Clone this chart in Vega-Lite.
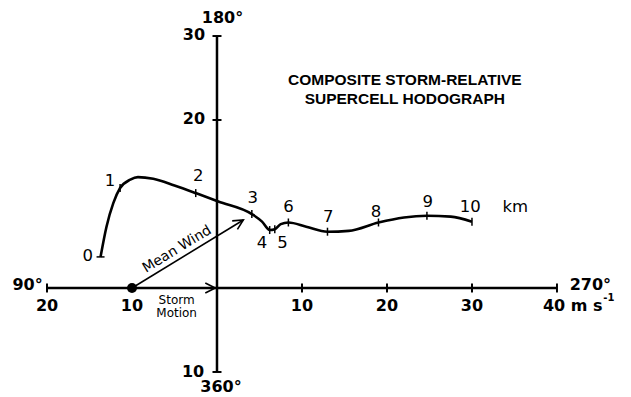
{
  "$schema": "https://vega.github.io/schema/vega-lite/v6.json",
  "width": 631,
  "height": 397,
  "padding": 0,
  "autosize": {"type": "fit", "contains": "padding"},
  "background": "white",
  "config": {"view": {"stroke": null}},
  "datasets": {
    "axes": [
      {"u": -20, "v": 0, "u2": 40, "v2": 0},
      {"u": 0, "v": -10, "u2": 0, "v2": 30}
    ],
    "arrows": [
      {"name": "storm", "u": -10, "v": 0, "u2": -0.2, "v2": 0},
      {"name": "mean", "u": -10, "v": 0, "u2": 3.1, "v2": 8.1}
    ],
    "xticks": [{"u": -20, "v": 0}, {"u": 10, "v": 0}, {"u": 20, "v": 0}, {"u": 30, "v": 0}, {"u": 40, "v": 0}],
    "yticks": [{"u": 0, "v": 30}, {"u": 0, "v": 20}, {"u": 0, "v": -10}],
    "curve": [
      {"u": -13.7, "v": 3.7},
      {"u": -13.0, "v": 7.3},
      {"u": -12.2, "v": 10.1},
      {"u": -11.4, "v": 11.9},
      {"u": -10.2, "v": 12.9},
      {"u": -9.3, "v": 13.2},
      {"u": -7.5, "v": 13.0},
      {"u": -5.0, "v": 12.2},
      {"u": -2.5, "v": 11.3},
      {"u": 0.15, "v": 10.3},
      {"u": 4.1, "v": 8.8},
      {"u": 5.3, "v": 7.9},
      {"u": 6.2, "v": 6.9},
      {"u": 6.8, "v": 7.0},
      {"u": 7.5, "v": 7.6},
      {"u": 8.4, "v": 7.8},
      {"u": 10.5, "v": 7.3},
      {"u": 13.0, "v": 6.7},
      {"u": 15.5, "v": 6.8},
      {"u": 19.0, "v": 7.8},
      {"u": 22.0, "v": 8.4},
      {"u": 24.7, "v": 8.6},
      {"u": 27.5, "v": 8.5},
      {"u": 30.0, "v": 7.9}
    ],
    "heights": [
      {"km": 0, "u": -13.7, "v": 3.7},
      {"km": 1, "u": -11.4, "v": 11.9},
      {"km": 2, "u": -2.5, "v": 11.3},
      {"km": 3, "u": 4.1, "v": 8.8},
      {"km": 4, "u": 6.2, "v": 6.9},
      {"km": 5, "u": 6.8, "v": 7.0},
      {"km": 6, "u": 8.4, "v": 7.8},
      {"km": 7, "u": 13.0, "v": 6.7},
      {"km": 8, "u": 19.0, "v": 7.8},
      {"km": 9, "u": 24.7, "v": 8.6},
      {"km": 10, "u": 30.0, "v": 7.9}
    ],
    "heightlabels": [
      {"t": "0", "u": -15.2, "v": 3.8},
      {"t": "1", "u": -12.6, "v": 12.7},
      {"t": "2", "u": -2.2, "v": 13.3},
      {"t": "3", "u": 4.2, "v": 10.75},
      {"t": "4", "u": 5.3, "v": 5.3},
      {"t": "5", "u": 7.7, "v": 5.3},
      {"t": "6", "u": 8.4, "v": 9.6},
      {"t": "7", "u": 13.1, "v": 8.4},
      {"t": "8", "u": 18.7, "v": 9.1},
      {"t": "9", "u": 24.8, "v": 10.2},
      {"t": "10", "u": 29.8, "v": 9.7},
      {"t": "km", "u": 35.1, "v": 9.7}
    ],
    "xlabels": [
      {"t": "20", "u": -20, "v": -2.14},
      {"t": "10", "u": -10, "v": -2.14},
      {"t": "10", "u": 10, "v": -2.14},
      {"t": "20", "u": 20, "v": -2.14},
      {"t": "30", "u": 30, "v": -2.14}
    ],
    "ylabels": [
      {"t": "30", "u": -1.4, "v": 30.1},
      {"t": "20", "u": -1.4, "v": 20.1},
      {"t": "10", "u": -1.5, "v": -10.0}
    ],
    "leftlabels": [
      {"t": "90°", "u": -20.5, "v": 0.3}
    ],
    "leftstart": [
      {"t": "270°", "u": 41.5, "v": 0.4},
      {"t": "40 m s", "u": 38.35, "v": -2.14}
    ],
    "centerlabels": [
      {"t": "180°", "u": 0.65, "v": 32.1},
      {"t": "360°", "u": 0.47, "v": -11.8}
    ],
    "sup": [{"t": "-1", "u": 45.45, "v": -1.25}],
    "title": [
      {"t": "COMPOSITE STORM-RELATIVE", "u": 22.1, "v": 24.8},
      {"t": "SUPERCELL HODOGRAPH", "u": 22.1, "v": 22.5}
    ],
    "storm": [{"u": -10, "v": 0}],
    "stormtext": [{"t": "Storm", "u": -4.75, "v": -1.4}, {"t": "Motion", "u": -4.75, "v": -2.95}],
    "meantext": [{"t": "Mean Wind", "u": -4.7, "v": 4.6}]
  },
  "encoding": {
    "x": {"field": "u", "type": "quantitative", "scale": {"domain": [-25.53, 48.71], "nice": false, "zero": false}, "axis": null},
    "y": {"field": "v", "type": "quantitative", "scale": {"domain": [-12.98, 34.29], "nice": false, "zero": false}, "axis": null}
  },
  "layer": [
    {
      "data": {"name": "axes"},
      "mark": {"type": "rule", "color": "black", "strokeWidth": 2.5},
      "encoding": {"x2": {"field": "u2"}, "y2": {"field": "v2"}}
    },
    {
      "data": {"name": "arrows"},
      "mark": {"type": "rule", "color": "black", "strokeWidth": 1.6},
      "encoding": {"x2": {"field": "u2"}, "y2": {"field": "v2"}}
    },
    {
      "data": {"name": "arrows"},
      "transform": [{"filter": "datum.name === 'storm'"}],
      "mark": {"type": "point", "shape": "M -1 -0.5 L 0 0 L -1 0.5", "size": 400, "filled": false, "stroke": "black", "strokeWidth": 1.6, "opacity": 1},
      "encoding": {"x": {"field": "u2", "type": "quantitative"}, "y": {"field": "v2", "type": "quantitative"}}
    },
    {
      "data": {"name": "arrows"},
      "transform": [{"filter": "datum.name === 'mean'"}],
      "mark": {"type": "point", "shape": "M -1 -0.5 L 0 0 L -1 0.5", "size": 400, "angle": 328.6, "filled": false, "stroke": "black", "strokeWidth": 1.6, "opacity": 1},
      "encoding": {"x": {"field": "u2", "type": "quantitative"}, "y": {"field": "v2", "type": "quantitative"}}
    },
    {
      "data": {"name": "xticks"},
      "mark": {"type": "tick", "orient": "vertical", "size": 9, "thickness": 2, "color": "black", "opacity": 1}
    },
    {
      "data": {"name": "yticks"},
      "mark": {"type": "tick", "orient": "horizontal", "size": 9, "thickness": 2, "color": "black", "opacity": 1}
    },
    {
      "data": {"name": "curve"},
      "mark": {"type": "line", "interpolate": "monotone", "color": "black", "strokeWidth": 2.6}
    },
    {
      "data": {"name": "heights"},
      "transform": [{"filter": "datum.km > 0"}],
      "mark": {"type": "tick", "orient": "vertical", "size": 8, "thickness": 1.5, "color": "black", "opacity": 1}
    },
    {
      "data": {"name": "heights"},
      "transform": [{"filter": "datum.km === 0"}],
      "mark": {"type": "tick", "orient": "horizontal", "size": 8, "thickness": 1.5, "color": "black", "opacity": 1}
    },
    {
      "data": {"name": "storm"},
      "mark": {"type": "point", "shape": "circle", "filled": true, "size": 100, "color": "black", "opacity": 1}
    },
    {
      "data": {"name": "heightlabels"},
      "mark": {"type": "text", "font": "DejaVu Sans", "fontSize": 16.5, "align": "center", "baseline": "middle", "color": "black"},
      "encoding": {"text": {"field": "t"}}
    },
    {
      "data": {"name": "xlabels"},
      "mark": {"type": "text", "font": "DejaVu Sans", "fontWeight": "bold", "fontSize": 16, "align": "center", "baseline": "middle", "color": "black"},
      "encoding": {"text": {"field": "t"}}
    },
    {
      "data": {"name": "ylabels"},
      "mark": {"type": "text", "font": "DejaVu Sans", "fontWeight": "bold", "fontSize": 16, "align": "right", "baseline": "middle", "color": "black"},
      "encoding": {"text": {"field": "t"}}
    },
    {
      "data": {"name": "leftlabels"},
      "mark": {"type": "text", "font": "DejaVu Sans", "fontWeight": "bold", "fontSize": 16, "align": "right", "baseline": "middle", "color": "black"},
      "encoding": {"text": {"field": "t"}}
    },
    {
      "data": {"name": "leftstart"},
      "mark": {"type": "text", "font": "DejaVu Sans", "fontWeight": "bold", "fontSize": 16, "align": "left", "baseline": "middle", "color": "black"},
      "encoding": {"text": {"field": "t"}}
    },
    {
      "data": {"name": "centerlabels"},
      "mark": {"type": "text", "font": "DejaVu Sans", "fontWeight": "bold", "fontSize": 16, "align": "center", "baseline": "middle", "color": "black"},
      "encoding": {"text": {"field": "t"}}
    },
    {
      "data": {"name": "sup"},
      "mark": {"type": "text", "font": "DejaVu Sans", "fontWeight": "bold", "fontSize": 10, "align": "left", "baseline": "middle", "color": "black"},
      "encoding": {"text": {"field": "t"}}
    },
    {
      "data": {"name": "title"},
      "mark": {"type": "text", "font": "Liberation Sans", "fontWeight": "bold", "fontSize": 15.5, "align": "center", "baseline": "middle", "color": "black"},
      "encoding": {"text": {"field": "t"}}
    },
    {
      "data": {"name": "stormtext"},
      "mark": {"type": "text", "font": "DejaVu Sans", "fontSize": 12, "letterSpacing": 0.9, "align": "center", "baseline": "middle", "color": "black"},
      "encoding": {"text": {"field": "t"}}
    },
    {
      "data": {"name": "meantext"},
      "mark": {"type": "text", "font": "DejaVu Sans", "fontSize": 14, "letterSpacing": 0.6, "angle": 328.6, "align": "center", "baseline": "middle", "color": "black"},
      "encoding": {"text": {"field": "t"}}
    }
  ]
}
